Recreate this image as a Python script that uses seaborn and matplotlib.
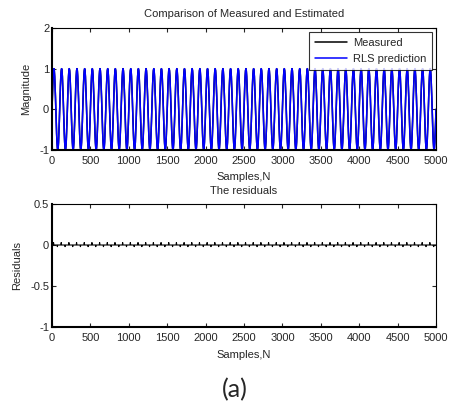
import numpy as np
import pandas as pd
import matplotlib
matplotlib.use("Agg")
import matplotlib.pyplot as plt
import seaborn as sns

# ---- data ----
# one period (100 samples) of the measured sinusoid, read every 5 samples
cycle_measured = [0.0, 0.31, 0.59, 0.81, 0.95, 1.0, 0.95, 0.81, 0.59, 0.31,
                  0.0, -0.31, -0.59, -0.81, -0.95, -1.0, -0.95, -0.81, -0.59, -0.31]
cycle_predicted = [0.0, 0.31, 0.59, 0.81, 0.95, 1.0, 0.95, 0.81, 0.59, 0.31,
                   0.0, -0.31, -0.59, -0.81, -0.95, -1.0, -0.95, -0.81, -0.59, -0.31]
cycle_residual = [0.0, 0.0, 0.0, 0.0, 0.03, 0.0, 0.0, 0.0, 0.0, 0.0,
                  0.0, 0.0, 0.0, 0.0, -0.02, 0.0, 0.0, 0.0, 0.0, 0.0]
n_cycles = 50
sample_step = 5

xticks = [0, 500, 1000, 1500, 2000, 2500, 3000, 3500, 4000, 4500, 5000]
yticks_top = [-1, 0, 1, 2]
yticks_bottom = [-1, -0.5, 0, 0.5]

samples = np.arange(0, n_cycles * len(cycle_measured) + 1) * sample_step
measured = np.append(np.tile(cycle_measured, n_cycles), cycle_measured[0])
predicted = np.append(np.tile(cycle_predicted, n_cycles), cycle_predicted[0])
residual = np.append(np.tile(cycle_residual, n_cycles), cycle_residual[0])

df = pd.DataFrame({"N": samples, "Measured": measured,
                   "RLS prediction": predicted, "Residual": residual})

sns.set_style("ticks")
plt.rcParams["font.family"] = ["Liberation Sans", "DejaVu Sans"]
plt.rcParams["xtick.direction"] = "in"
plt.rcParams["ytick.direction"] = "in"

fig = plt.figure(figsize=(4.49, 4.05), dpi=100)
ax1 = fig.add_axes([52/449, 1-150/405, 384/449, 122/405])
ax2 = fig.add_axes([52/449, 1-327/405, 384/449, 123/405])

fs = 8

sns.lineplot(data=df, x="N", y="Measured", ax=ax1, color="black", lw=1.1, label="Measured")
sns.lineplot(data=df, x="N", y="RLS prediction", ax=ax1, color="#0000ff", lw=1.1, label="RLS prediction")
sns.lineplot(data=df, x="N", y="Residual", ax=ax2, color="black", lw=0.8)

for ax, yt, yl in [(ax1, yticks_top, "Magnitude"), (ax2, yticks_bottom, "Residuals")]:
    ax.set_xlim(0, 5000)
    ax.set_xticks(xticks)
    ax.set_yticks(yt)
    ax.set_ylim(yt[0], yt[-1])
    ax.set_xticklabels([str(v) for v in xticks], fontsize=fs)
    ax.set_yticklabels([("%g" % v) for v in yt], fontsize=fs)
    ax.tick_params(top=True, right=True, length=3, width=0.8)
    ax.tick_params(axis="x", pad=4.5)
    ax.tick_params(axis="y", pad=2)
    ax.set_xlabel("Samples,N", fontsize=fs, labelpad=4.5)
    ax.set_ylabel(yl, fontsize=fs, labelpad=6)
    for s in ax.spines.values():
        s.set_visible(True)
        s.set_linewidth(0.8)
        s.set_color("black")
    ax.spines["left"].set_linewidth(1.5)
    ax.spines["bottom"].set_linewidth(1.5)

ax1.set_title("Comparison of Measured and Estimated", fontsize=fs, pad=8)
ax2.set_title("The residuals", fontsize=fs, pad=7)

leg = ax1.legend(loc="upper right", fontsize=fs, frameon=True, fancybox=False,
                 borderaxespad=0.4, handlelength=2.9, borderpad=0.5,
                 labelspacing=0.55, handletextpad=0.5)
leg.get_frame().set_edgecolor("black")
leg.get_frame().set_linewidth(0.8)

fig.text(235/449, 1-390/405, "(a)", fontsize=18, ha="center", va="center",
         family=["Lato", "DejaVu Sans"])

fig.savefig("out.png", dpi=100)
